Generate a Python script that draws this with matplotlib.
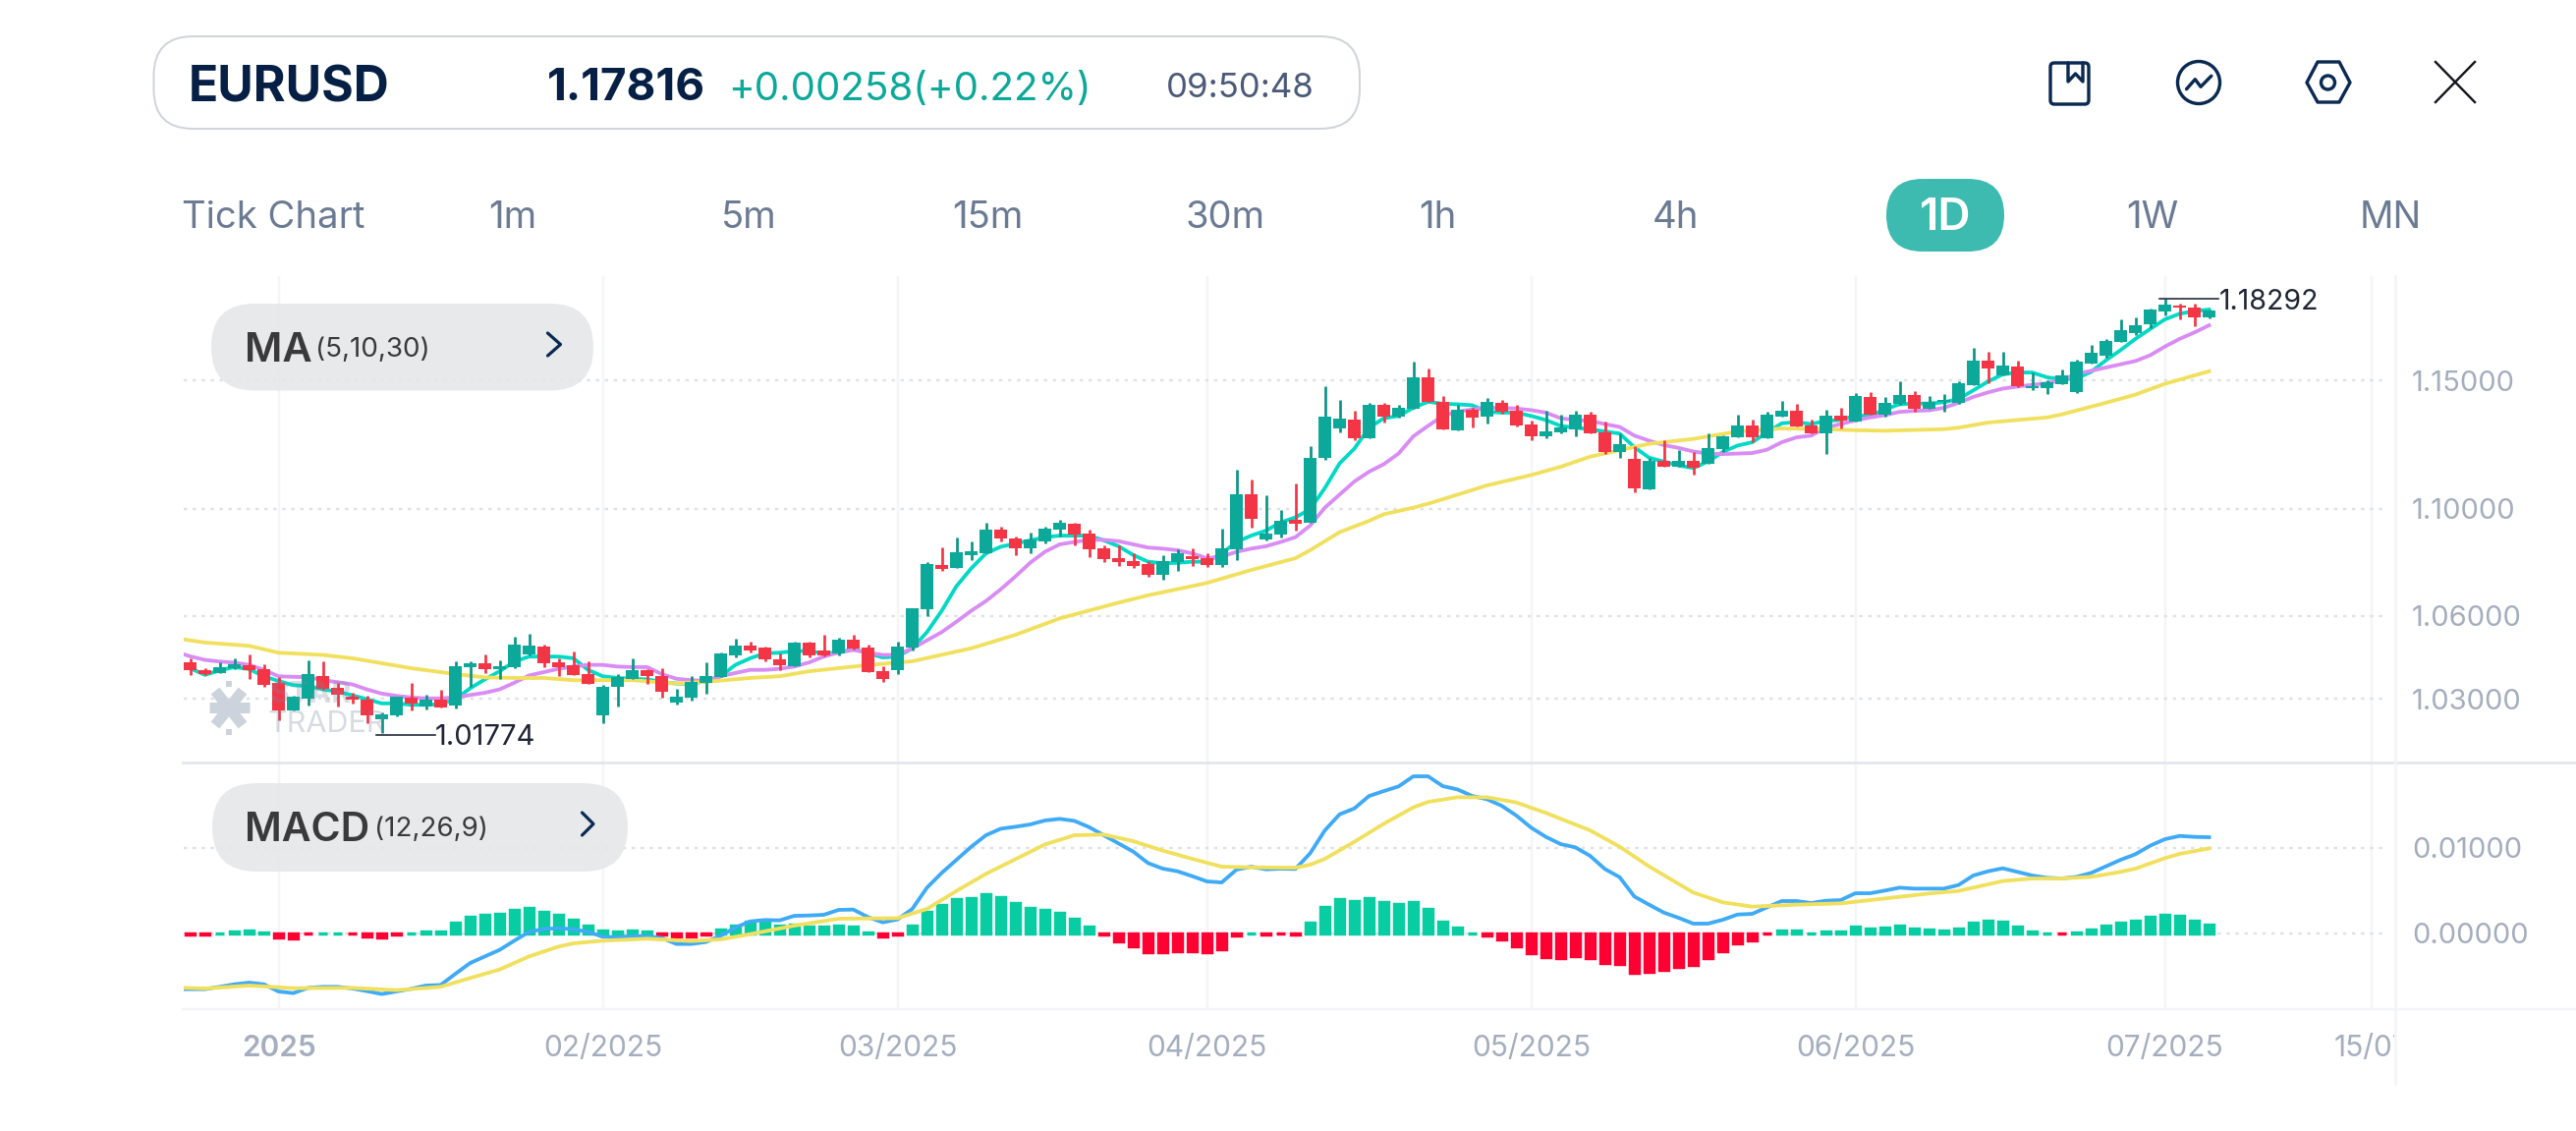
"""EURUSD daily candlestick screen with MA and MACD panels."""

import matplotlib

matplotlib.use("Agg")
import matplotlib.pyplot as plt
import numpy as np
from matplotlib.patches import Circle, FancyBboxPatch, Polygon, Rectangle
from matplotlib.transforms import Bbox

plt.rcParams["font.family"] = ["Inter", "DejaVu Sans"]

candle_open = [
    1.0430, 1.0404, 1.0393, 1.0410, 1.0422, 1.0407, 1.0357, 1.0259, 1.0302, 1.0382,
    1.0340, 1.0309, 1.0298, 1.0228, 1.0242, 1.0305, 1.0274, 1.0298, 1.0276, 1.0414,
    1.0428, 1.0405, 1.0412, 1.0460, 1.0489, 1.0430, 1.0422, 1.0389, 1.0240, 1.0344,
    1.0372, 1.0403, 1.0382, 1.0287, 1.0305, 1.0358, 1.0379, 1.0458, 1.0491, 1.0484,
    1.0443, 1.0417, 1.0503, 1.0474, 1.0464, 1.0512, 1.0484, 1.0400, 1.0403, 1.0485,
    1.0625, 1.0787, 1.0776, 1.0827, 1.0832, 1.0921, 1.0887, 1.0850, 1.0876, 1.0921,
    1.0945, 1.0905, 1.0850, 1.0814, 1.0802, 1.0791, 1.0751, 1.0798, 1.0821, 1.0814,
    1.0787, 1.0847, 1.1055, 1.0883, 1.0902, 1.0958, 1.0946, 1.1195, 1.1312, 1.1347,
    1.1274, 1.1402, 1.1359, 1.1390, 1.1514, 1.1417, 1.1304, 1.1386, 1.1359, 1.1413,
    1.1382, 1.1328, 1.1282, 1.1296, 1.1308, 1.1366, 1.1296, 1.1220, 1.1191, 1.1076,
    1.1186, 1.1163, 1.1186, 1.1172, 1.1232, 1.1278, 1.1324, 1.1274, 1.1359, 1.1382,
    1.1324, 1.1290, 1.1363, 1.1339, 1.1436, 1.1364, 1.1406, 1.1444, 1.1390, 1.1417,
    1.1413, 1.1483, 1.1581, 1.1522, 1.1557, 1.1471, 1.1471, 1.1487, 1.1456, 1.1569,
    1.1601, 1.1656, 1.1692, 1.1728, 1.1780, 1.1804, 1.1796, 1.1756,
]
candle_close = [
    1.0404, 1.0390, 1.0415, 1.0424, 1.0404, 1.0349, 1.0258, 1.0308, 1.0388, 1.0337,
    1.0315, 1.0298, 1.0240, 1.0246, 1.0307, 1.0285, 1.0299, 1.0268, 1.0416, 1.0429,
    1.0407, 1.0416, 1.0495, 1.0491, 1.0428, 1.0415, 1.0386, 1.0354, 1.0342, 1.0380,
    1.0403, 1.0382, 1.0327, 1.0307, 1.0360, 1.0381, 1.0463, 1.0491, 1.0474, 1.0443,
    1.0420, 1.0503, 1.0457, 1.0458, 1.0514, 1.0481, 1.0396, 1.0372, 1.0488, 1.0627,
    1.0791, 1.0775, 1.0835, 1.0839, 1.0921, 1.0887, 1.0852, 1.0883, 1.0924, 1.0946,
    1.0902, 1.0848, 1.0810, 1.0798, 1.0786, 1.0751, 1.0802, 1.0832, 1.0810, 1.0787,
    1.0850, 1.1055, 1.0961, 1.0908, 1.0954, 1.0943, 1.1198, 1.1359, 1.1350, 1.1274,
    1.1402, 1.1359, 1.1394, 1.1514, 1.1417, 1.1308, 1.1386, 1.1355, 1.1417, 1.1378,
    1.1324, 1.1282, 1.1300, 1.1316, 1.1366, 1.1293, 1.1220, 1.1251, 1.1080, 1.1186,
    1.1163, 1.1186, 1.1160, 1.1236, 1.1282, 1.1324, 1.1278, 1.1366, 1.1382, 1.1320,
    1.1290, 1.1363, 1.1343, 1.1440, 1.1366, 1.1412, 1.1444, 1.1390, 1.1417, 1.1425,
    1.1491, 1.1581, 1.1550, 1.1561, 1.1479, 1.1479, 1.1495, 1.1522, 1.1577, 1.1613,
    1.1660, 1.1704, 1.1724, 1.1788, 1.1808, 1.1796, 1.1756, 1.17816,
]
candle_high = [
    1.0446, 1.0410, 1.0430, 1.0446, 1.0460, 1.0424, 1.0378, 1.0311, 1.0439, 1.0434,
    1.0358, 1.0322, 1.0311, 1.0253, 1.0308, 1.0358, 1.0315, 1.0332, 1.0434, 1.0434,
    1.0460, 1.0439, 1.0523, 1.0535, 1.0495, 1.0444, 1.0470, 1.0434, 1.0349, 1.0389,
    1.0446, 1.0407, 1.0410, 1.0337, 1.0381, 1.0430, 1.0466, 1.0517, 1.0505, 1.0488,
    1.0464, 1.0505, 1.0505, 1.0531, 1.0521, 1.0531, 1.0496, 1.0419, 1.0505, 1.0627,
    1.0798, 1.0854, 1.0891, 1.0876, 1.0949, 1.0932, 1.0897, 1.0912, 1.0932, 1.0958,
    1.0946, 1.0921, 1.0862, 1.0862, 1.0832, 1.0802, 1.0825, 1.0847, 1.0850, 1.0832,
    1.0924, 1.1150, 1.1112, 1.1051, 1.0995, 1.1096, 1.1243, 1.1476, 1.1425, 1.1382,
    1.1413, 1.1413, 1.1402, 1.1577, 1.1550, 1.1440, 1.1402, 1.1394, 1.1429, 1.1425,
    1.1402, 1.1343, 1.1382, 1.1366, 1.1382, 1.1378, 1.1339, 1.1293, 1.1243, 1.1198,
    1.1266, 1.1228, 1.1220, 1.1290, 1.1286, 1.1366, 1.1347, 1.1378, 1.1421, 1.1409,
    1.1347, 1.1386, 1.1394, 1.1452, 1.1456, 1.1436, 1.1498, 1.1460, 1.1440, 1.1448,
    1.1498, 1.1632, 1.1616, 1.1616, 1.1581, 1.1533, 1.1502, 1.1546, 1.1585, 1.1644,
    1.1668, 1.1746, 1.1756, 1.1792, 1.18292, 1.1812, 1.1810, 1.1788,
]
candle_low = [
    1.0384, 1.0384, 1.0391, 1.0408, 1.0372, 1.0344, 1.0225, 1.0258, 1.0275, 1.0334,
    1.0273, 1.0285, 1.0214, 1.01774, 1.0238, 1.0259, 1.0262, 1.0268, 1.0267, 1.0342,
    1.0393, 1.0372, 1.0410, 1.0456, 1.0414, 1.0381, 1.0384, 1.0352, 1.0212, 1.0273,
    1.0370, 1.0354, 1.0304, 1.0280, 1.0294, 1.0319, 1.0377, 1.0450, 1.0468, 1.0435,
    1.0403, 1.0417, 1.0450, 1.0452, 1.0457, 1.0476, 1.0396, 1.0360, 1.0389, 1.0475,
    1.0601, 1.0765, 1.0776, 1.0806, 1.0831, 1.0876, 1.0825, 1.0832, 1.0869, 1.0896,
    1.0862, 1.0817, 1.0798, 1.0784, 1.0776, 1.0744, 1.0733, 1.0765, 1.0784, 1.0780,
    1.0780, 1.0806, 1.0928, 1.0880, 1.0891, 1.0917, 1.0946, 1.1188, 1.1297, 1.1266,
    1.1274, 1.1334, 1.1355, 1.1390, 1.1417, 1.1308, 1.1304, 1.1316, 1.1332, 1.1370,
    1.1320, 1.1266, 1.1274, 1.1293, 1.1282, 1.1293, 1.1213, 1.1198, 1.1065, 1.1076,
    1.1163, 1.1163, 1.1133, 1.1172, 1.1220, 1.1278, 1.1259, 1.1274, 1.1359, 1.1320,
    1.1290, 1.1213, 1.1312, 1.1339, 1.1366, 1.1359, 1.1402, 1.1375, 1.1390, 1.1375,
    1.1409, 1.1483, 1.1491, 1.1522, 1.1475, 1.1464, 1.1448, 1.1487, 1.1452, 1.1569,
    1.1593, 1.1656, 1.1684, 1.1712, 1.1764, 1.1748, 1.1720, 1.1752,
]

# moving averages start one bar before the first candle, that bar is cut by the axes
ma5 = [
    1.0425,
    1.0410, 1.0386, 1.0402, 1.0414, 1.0407, 1.0381, 1.0364, 1.0349, 1.0346, 1.0334,
    1.0326, 1.0313, 1.0299, 1.0284, 1.0284, 1.0279, 1.0279, 1.0281, 1.0299, 1.0338,
    1.0370, 1.0399, 1.0434, 1.0452, 1.0452, 1.0452, 1.0446, 1.0404, 1.0381, 1.0375,
    1.0372, 1.0370, 1.0360, 1.0355, 1.0354, 1.0364, 1.0381, 1.0422, 1.0446, 1.0464,
    1.0466, 1.0472, 1.0472, 1.0464, 1.0466, 1.0480, 1.0464, 1.0449, 1.0452, 1.0482,
    1.0541, 1.0619, 1.0710, 1.0776, 1.0832, 1.0857, 1.0869, 1.0881, 1.0893, 1.0899,
    1.0899, 1.0899, 1.0881, 1.0859, 1.0826, 1.0801, 1.0795, 1.0797, 1.0801, 1.0801,
    1.0832, 1.0875, 1.0899, 1.0918, 1.0949, 1.0968, 1.0999, 1.1080, 1.1175, 1.1232,
    1.1314, 1.1351, 1.1360, 1.1392, 1.1416, 1.1408, 1.1406, 1.1402, 1.1377, 1.1373,
    1.1373, 1.1360, 1.1344, 1.1321, 1.1314, 1.1308, 1.1299, 1.1291, 1.1238, 1.1197,
    1.1182, 1.1167, 1.1157, 1.1182, 1.1219, 1.1244, 1.1257, 1.1295, 1.1331, 1.1336,
    1.1328, 1.1341, 1.1344, 1.1362, 1.1360, 1.1386, 1.1406, 1.1409, 1.1409, 1.1414,
    1.1427, 1.1461, 1.1496, 1.1525, 1.1532, 1.1532, 1.1513, 1.1505, 1.1508, 1.1535,
    1.1581, 1.1622, 1.1667, 1.1707, 1.1746, 1.1769, 1.1780, 1.1786,
]
ma10 = [
    1.0470,
    1.0453, 1.0440, 1.0434, 1.0430, 1.0422, 1.0404, 1.0381, 1.0379, 1.0378, 1.0367,
    1.0360, 1.0352, 1.0334, 1.0319, 1.0311, 1.0305, 1.0302, 1.0302, 1.0305, 1.0314,
    1.0322, 1.0334, 1.0358, 1.0384, 1.0396, 1.0408, 1.0416, 1.0422, 1.0422, 1.0416,
    1.0414, 1.0414, 1.0389, 1.0372, 1.0367, 1.0364, 1.0381, 1.0393, 1.0404, 1.0404,
    1.0408, 1.0416, 1.0431, 1.0452, 1.0467, 1.0476, 1.0466, 1.0458, 1.0458, 1.0482,
    1.0511, 1.0541, 1.0579, 1.0619, 1.0655, 1.0698, 1.0746, 1.0797, 1.0838, 1.0866,
    1.0875, 1.0883, 1.0883, 1.0878, 1.0866, 1.0854, 1.0850, 1.0844, 1.0832, 1.0814,
    1.0820, 1.0838, 1.0850, 1.0859, 1.0875, 1.0893, 1.0937, 1.1005, 1.1055, 1.1105,
    1.1143, 1.1172, 1.1213, 1.1280, 1.1321, 1.1360, 1.1377, 1.1386, 1.1392, 1.1392,
    1.1389, 1.1383, 1.1373, 1.1351, 1.1344, 1.1341, 1.1328, 1.1317, 1.1283, 1.1263,
    1.1246, 1.1235, 1.1221, 1.1213, 1.1211, 1.1213, 1.1215, 1.1228, 1.1257, 1.1276,
    1.1283, 1.1314, 1.1328, 1.1343, 1.1354, 1.1363, 1.1376, 1.1380, 1.1382, 1.1392,
    1.1412, 1.1435, 1.1453, 1.1468, 1.1476, 1.1483, 1.1489, 1.1502, 1.1526, 1.1539,
    1.1552, 1.1565, 1.1578, 1.1601, 1.1636, 1.1667, 1.1693, 1.1722,
]
ma30_bar = [
    -1, 1, 4, 6, 9, 11, 13, 15, 18, 20, 22, 24, 26, 30, 33, 35, 38, 40, 42, 45,
    47, 49, 53, 56, 59, 63, 65, 69, 72, 75, 76, 78, 80, 81, 83, 84, 85, 88, 91, 93,
    95, 97, 99, 102, 105, 108, 111, 113, 115, 119, 120, 122, 123, 126, 127, 130, 132, 134, 137,
]
ma30 = [
    1.0519, 1.0503, 1.0491, 1.0466, 1.0458, 1.0446, 1.0428, 1.0410, 1.0389, 1.0377,
    1.0375, 1.0375, 1.0367, 1.0367, 1.0355, 1.0361, 1.0375, 1.0381, 1.0399, 1.0416,
    1.0426, 1.0435, 1.0482, 1.0531, 1.0591, 1.0649, 1.0676, 1.0722, 1.0770, 1.0814,
    1.0844, 1.0912, 1.0955, 1.0980, 1.1005, 1.1020, 1.1037, 1.1090, 1.1130, 1.1162,
    1.1201, 1.1226, 1.1251, 1.1270, 1.1299, 1.1311, 1.1308, 1.1304, 1.1302, 1.1308,
    1.1314, 1.1334, 1.1339, 1.1354, 1.1366, 1.1412, 1.1444, 1.1487, 1.1537,
]

# MACD values in units of 0.00001
macd_hist = [
    -11, -11, 2, 19, 34, 8, -46, -57, -2, 2,
    2, -2, -31, -46, -11, 2, 19, 19, 122, 195,
    214, 229, 275, 298, 252, 218, 160, 88, 31, 19,
    31, 23, -11, -38, -31, -11, 46, 95, 134, 134,
    88, 107, 76, 80, 95, 76, 11, -31, -11, 88,
    248, 332, 401, 412, 458, 424, 355, 298, 275, 240,
    172, 80, -11, -92, -149, -221, -221, -210, -206, -221,
    -183, -27, 2, -15, -2, -15, 126, 309, 401, 378,
    416, 370, 344, 370, 286, 137, 69, 2, -27, -73,
    -149, -233, -279, -290, -267, -290, -347, -359, -462, -450,
    -428, -393, -370, -290, -210, -118, -80, -2, 34, 34,
    2, 23, 19, 80, 53, 65, 92, 53, 42, 31,
    53, 122, 145, 137, 76, 19, 2, -2, 8, 42,
    88, 122, 145, 191, 214, 202, 145, 107,
]
macd_dif = [
    -649,
    -649, -649, -622, -592, -573, -592, -676, -695, -634, -622,
    -622, -641, -672, -706, -676, -645, -607, -600, -470, -344,
    -267, -191, -84, 19, 53, 61, 50, 19, -38, -42,
    -31, -31, -53, -122, -122, -99, -27, 69, 141, 157,
    153, 206, 210, 218, 275, 279, 191, 130, 164, 286,
    534, 706, 859, 1011, 1145, 1221, 1244, 1271, 1317, 1336,
    1313, 1240, 1145, 1050, 954, 821, 756, 725, 668, 607,
    595, 744, 779, 748, 756, 752, 935, 1202, 1389, 1458,
    1603, 1660, 1714, 1832, 1832, 1718, 1679, 1603, 1565, 1489,
    1374, 1233, 1126, 1042, 1004, 905, 752, 657, 431, 336,
    244, 183, 115, 115, 160, 221, 229, 305, 378, 378,
    355, 382, 389, 469, 469, 500, 534, 523, 523, 523,
    565, 676, 725, 760, 718, 676, 649, 641, 660, 706,
    782, 859, 924, 1023, 1099, 1137, 1126, 1122,
]
macd_dea_bar = [
    -1, 1, 4, 7, 11, 14, 17, 19, 21, 23, 25, 26, 28, 31, 34, 36, 38, 41, 44, 48,
    50, 52, 54, 56, 58, 60, 62, 64, 66, 68, 70, 72, 75, 76, 77, 79, 81, 83, 84, 86,
    88, 90, 92, 95, 97, 99, 102, 104, 106, 109, 112, 115, 118, 120, 123, 125, 127, 129,
    131, 132, 134, 135, 137,
]
macd_dea = [
    -630, -641, -607, -637, -634, -660, -622, -519, -420, -267, -153, -115, -84, -61, -88,
    -69, -8, 92, 172, 179, 286, 496, 695, 866, 1038, 1145, 1153, 1076, 966, 870,
    779, 771, 767, 802, 870, 1069, 1279, 1470, 1534, 1588, 1588, 1527, 1405, 1202, 1012,
    782, 477, 363, 313, 336, 351, 408, 466, 496, 611, 641, 641, 660, 718, 756,
    878, 928, 992,
]

price_ticks = [1.03, 1.06, 1.10, 1.15]
price_tick_labels = ["1.03000", "1.06000", "1.10000", "1.15000"]
macd_ticks = [0.0, 0.01]
macd_tick_labels = ["0.00000", "0.01000"]
date_bars = [6, 28, 48, 69, 91, 113, 134, 148]
date_labels = ["2025", "02/2025", "03/2025", "04/2025", "05/2025", "06/2025", "07/2025", "15/07"]
timeframes = ["Tick Chart", "1m", "5m", "15m", "30m", "1h", "4h", "1D", "1W", "MN"]

UP = "#0CA89A"
UP_WICK = "#0A9484"
DOWN = "#F43545"
GRID_V = "#F4F5F7"
GRID_H = "#DEE1E6"
AXIS_TEXT = "#A4AEBE"
NAVY = "#0B2A52"
W, H = 2622, 1151
PX = 0.72  # points per pixel at dpi 100
LINE_W = 3.8 * PX


def add_axes_px(fig, left, top, right, bottom):
    return fig.add_axes([left / W, 1 - bottom / H, (right - left) / W, (bottom - top) / H])


fig = plt.figure(figsize=(W / 100, H / 100), dpi=100, facecolor="white")
ax_price = add_axes_px(fig, 186.5, 281, 2430, 776)
ax_macd = add_axes_px(fig, 186.5, 776, 2430, 1027)
bars = np.arange(len(candle_open))
xlim = (-0.47, 149.1)

# price panel
o, c, hi, lo = map(np.array, (candle_open, candle_close, candle_high, candle_low))
is_up = c >= o
ax_price.set_yscale("log")
ma_bars = np.arange(-1, len(ma5) - 1)
ax_price.plot(ma_bars, ma5, color="#00D9C5", lw=LINE_W, zorder=2)
ax_price.plot(ma_bars, ma10, color="#D98CF3", lw=LINE_W, zorder=2)
ax_price.plot(ma30_bar, ma30, color="#F1E05E", lw=LINE_W, zorder=2)
ax_price.vlines(bars, lo, hi, colors=np.where(is_up, UP_WICK, DOWN), lw=2.7 * PX, zorder=3)
ax_price.bar(
    bars,
    np.maximum(np.abs(c - o), 0.0004),
    bottom=np.minimum(o, c),
    width=0.87,
    color=np.where(is_up, UP, DOWN),
    zorder=4,
)
ax_price.plot([133.6, 137.65], [1.18292, 1.18292], color="#1E2535", lw=1.6 * PX, zorder=5)
ax_price.annotate(
    "1.18292", xy=(137.65, 1.18292), xytext=(0, -2), textcoords="offset points",
    color="#1E2535", fontsize=20.5, va="center", zorder=5,
)
ax_price.plot([12.65, 16.6], [1.0171, 1.0171], color="#1E2535", lw=1.6 * PX, zorder=5)
ax_price.annotate(
    "1.01774", xy=(16.6, 1.0174), xytext=(0, -2), textcoords="offset points",
    color="#1E2535", fontsize=21, va="center", zorder=5,
)
ax_price.set_ylim(1.00757, 1.19234)
ax_price.set_yticks(price_ticks)
ax_price.set_yticklabels(price_tick_labels)
ax_price.minorticks_off()

# MACD panel
hist = np.array(macd_hist) * 1e-5
ax_macd.bar(
    bars,
    hist,
    width=0.61,
    color=np.where(hist >= 0, "#08CCA2", "#FF0033"),
    edgecolor=np.where(hist >= 0, "#08CCA2", "#FF0033"),
    lw=3.4 * PX,
    zorder=2,
)
ax_macd.plot(np.arange(-1, len(macd_dif) - 1), np.array(macd_dif) * 1e-5, color="#3FAAF6", lw=LINE_W, zorder=3)
ax_macd.plot(macd_dea_bar, np.array(macd_dea) * 1e-5, color="#F1E05E", lw=LINE_W, zorder=4)
ax_macd.set_ylim(-0.00882, 0.01993)
ax_macd.set_yticks(macd_ticks)
ax_macd.set_yticklabels(macd_tick_labels)

for ax in (ax_price, ax_macd):
    ax.set_xlim(*xlim)
    ax.set_xticks(date_bars)
    ax.yaxis.tick_right()
    ax.tick_params(axis="y", length=0, pad=18, labelsize=21, labelcolor=AXIS_TEXT)
    ax.tick_params(axis="x", length=0)
    ax.grid(axis="x", color=GRID_V, lw=2.5 * PX, zorder=0)
    ax.grid(axis="y", color=GRID_H, lw=2.4 * PX, linestyle=(0, (1.4, 2.4)), zorder=1)
    ax.set_axisbelow(True)
    for spine in ax.spines.values():
        spine.set_visible(False)

ax_price.tick_params(axis="x", labelbottom=False)
ax_macd.set_xticklabels(date_labels)
ax_macd.tick_params(axis="x", pad=19, labelsize=21.5, labelcolor=AXIS_TEXT)
ax_macd.get_xticklabels()[0].set_fontweight("semibold")
last_label = ax_macd.get_xticklabels()[-1]
last_label.set_clip_on(True)
last_label.set_clip_box(Bbox([[0, 0], [2437, H]]))

# screen chrome on a full size overlay in pixel coordinates
ui = fig.add_axes([0, 0, 1, 1], facecolor="none")
ui.set_xlim(0, W)
ui.set_ylim(H, 0)
ui.axis("off")


def pill(x0, y0, x1, y1, radius, **kw):
    ui.add_patch(
        FancyBboxPatch(
            (x0, y0), x1 - x0, y1 - y0, boxstyle=f"round,pad=0,rounding_size={radius}", **kw
        )
    )


# separators
ui.plot([186, W], [776, 776], color="#E1E4ED", lw=2.6 * PX)
ui.plot([186, W], [1027, 1027], color="#F3F4F7", lw=2.4 * PX)
ui.plot([2437.8, 2437.8], [281, 1103], color="#F3F4F7", lw=2.6 * PX)

# symbol header
pill(156.5, 37, 1384, 131, 40, facecolor="white", edgecolor="#D0D4DB", lw=2 * PX)
ui.text(192, 90, "EURUSD", fontsize=36, fontweight="bold", color="#061F45", va="center")
ui.text(557, 90, "1.17816", fontsize=33, fontweight="bold", color="#061F45", va="center")
ui.text(741, 91, "+0.00258(+0.22%)", fontsize=29, color=UP, va="center")
ui.text(1187, 90, "09:50:48", fontsize=25, color="#4A5A78", va="center")

# timeframe row
tf_x = [278, 522, 762, 1005, 1247, 1463, 1706, 1980, 2191, 2433]
pill(1920, 182, 2040, 256, 37, facecolor="#3DBBB0", edgecolor="none")
for x, label in zip(tf_x, timeframes):
    active = label == "1D"
    ui.text(
        x, 222, label, fontsize=33 if active else 27.5, ha="center", va="center",
        color="white" if active else "#6B7B93",
        fontweight="semibold" if active else "normal",
    )

# toolbar icons
icon = dict(color=NAVY, lw=3.4 * PX, solid_capstyle="round", solid_joinstyle="round")
pill(2087, 64, 2126, 106, 4, facecolor="none", edgecolor=NAVY, lw=3.4 * PX)
ui.plot([2105, 2105, 2112.5, 2120, 2120], [64, 83, 75, 83, 64], **icon)
ui.add_patch(Circle((2238, 84), 21.5, facecolor="none", edgecolor=NAVY, lw=3.4 * PX))
ui.plot([2225.5, 2234.3, 2240, 2250.8], [90.7, 80.7, 88.3, 77.3], **icon)
ui.add_patch(
    Polygon(
        [(2359, 63), (2381, 63), (2392, 84), (2381, 104), (2359, 104), (2348, 84)],
        closed=True, facecolor="none", edgecolor=NAVY, lw=3.4 * PX, joinstyle="round",
    )
)
ui.add_patch(Circle((2369.5, 84), 7, facecolor="none", edgecolor=NAVY, lw=3.4 * PX))
ui.plot([2479, 2519], [63, 104], color="#14161C", lw=2.4 * PX)
ui.plot([2519, 2479], [63, 104], color="#14161C", lw=2.4 * PX)

# indicator chips
chevron = dict(color=NAVY, lw=3.2 * PX, solid_capstyle="round", solid_joinstyle="round")
pill(215, 309, 604, 397.5, 44, facecolor="#E6E7E9", edgecolor="none", alpha=0.9)
ui.text(249, 357, "MA", fontsize=30, fontweight="semibold", color="#3A3A3C", va="center")
ui.text(321, 356, "(5,10,30)", fontsize=20, color="#3A3A3C", va="center")
ui.plot([557.5, 570.5, 557.5], [339, 350.5, 362], **chevron)
pill(216, 797, 639, 887, 45, facecolor="#E6E7E9", edgecolor="none", alpha=0.9)
ui.text(249, 845, "MACD", fontsize=29.5, fontweight="semibold", color="#3A3A3C", va="center")
ui.text(381, 844, "(12,26,9)", fontsize=20, color="#3A3A3C", va="center")
ui.plot([592.5, 604, 592.5], [827, 838.5, 850], **chevron)

# watermark
star = "#CDD3DC"
for (x0, y0, x1, y1) in [(213, 720, 254, 720), (219, 703, 247, 738), (247, 703, 219, 738)]:
    ui.plot([x0, x1], [y0, y1], color=star, lw=11 * PX, solid_capstyle="butt")
ui.add_patch(Rectangle((230, 693), 6, 6, facecolor=star))
ui.add_patch(Rectangle((230, 742), 6, 6, facecolor=star))
ui.text(275, 707, "STAR", fontsize=22, fontweight="bold", color="#7C8AA0", alpha=0.28, va="center")
ui.text(272, 737, "TRADER", fontsize=22, color="#7C8AA0", alpha=0.3, va="center")

fig.savefig("out.png", dpi=100, facecolor="white")
plt.close(fig)
